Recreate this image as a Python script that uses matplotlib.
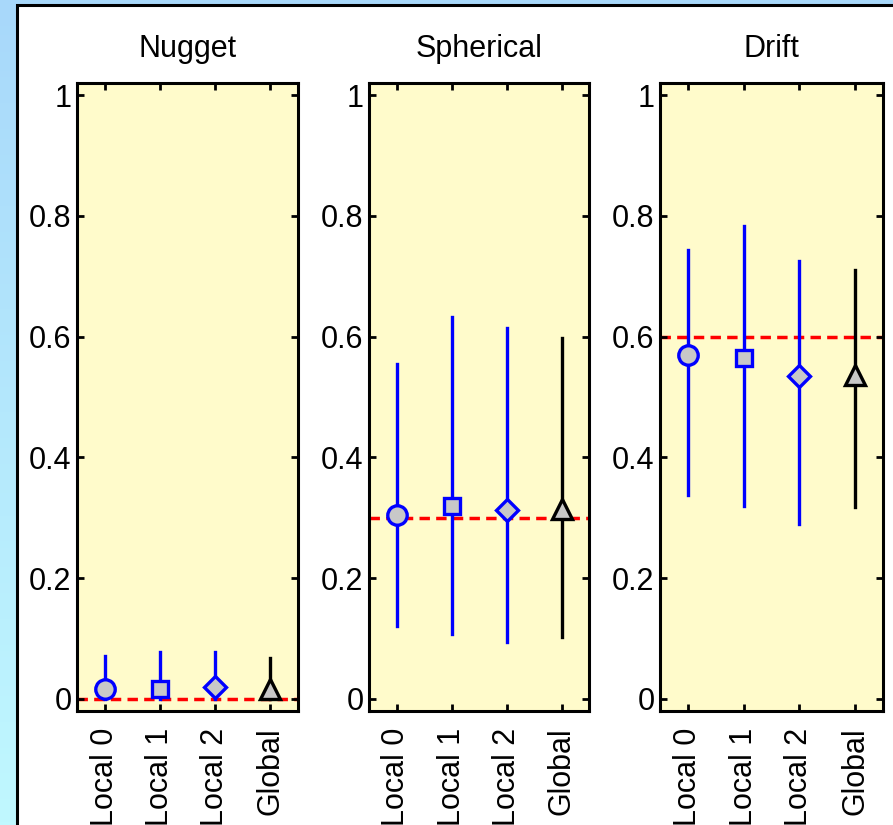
import numpy as np
import matplotlib.pyplot as plt
from matplotlib.patches import Rectangle

plt.rcParams['font.family'] = ['Liberation Sans', 'DejaVu Sans']

# estimates per model: median with lower/upper bounds, plus the true value
labels = ["Local 0", "Local 1", "Local 2", "Global"]
titles = ["Nugget", "Spherical", "Drift"]
true_vals = [0.0, 0.3, 0.6]

nugget_mid = [0.017, 0.016, 0.019, 0.017]
nugget_lo = [0.0, 0.0, 0.0, 0.0]
nugget_hi = [0.071, 0.078, 0.077, 0.068]

spherical_mid = [0.305, 0.320, 0.313, 0.315]
spherical_lo = [0.121, 0.108, 0.094, 0.102]
spherical_hi = [0.554, 0.633, 0.615, 0.598]

drift_mid = [0.570, 0.565, 0.535, 0.537]
drift_lo = [0.337, 0.320, 0.290, 0.318]
drift_hi = [0.743, 0.784, 0.726, 0.711]

mids = [nugget_mid, spherical_mid, drift_mid]
los = [nugget_lo, spherical_lo, drift_lo]
his = [nugget_hi, spherical_hi, drift_hi]

markers = ["o", "s", "D", "^"]
msizes = [14, 12, 11, 14]
edge_cols = ["blue", "blue", "blue", "black"]

fig = plt.figure(figsize=(8.93, 8.25), dpi=100)

# slide background: blue gradient with a white framed panel
bg = fig.add_axes([0, 0, 1, 1], zorder=-10)
grad = np.linspace(0, 1, 256).reshape(-1, 1)
top = np.array([168, 216, 250]) / 255
bot = np.array([192, 248, 255]) / 255
img = top + (bot - top) * grad[:, :, None]
bg.imshow(img, aspect="auto", extent=[0, 1, 0, 1], origin="upper")
bg.add_patch(Rectangle((17 / 893, -0.1), 1.2, 1.1 - 5 / 825,
                       facecolor="white", edgecolor="black", lw=2.2))
bg.set_xlim(0, 1)
bg.set_ylim(0, 1)
bg.axis("off")

lefts = [77 / 893, 369 / 893, 660 / 893]
widths = [221 / 893, 220 / 893, 223 / 893]
x = np.arange(1, 5)

for i in range(3):
    ax = fig.add_axes([lefts[i], 1 - 711 / 825, widths[i], 628 / 825])
    ax.set_facecolor("#fffbcb")
    ax.axhline(true_vals[i], color="red", ls=(0, (3, 1.8)), lw=2.5, zorder=1)
    for j in range(4):
        ax.plot([x[j], x[j]], [los[i][j], his[i][j]], color=edge_cols[j],
                lw=2.4, zorder=2)
        ax.plot(x[j], mids[i][j], marker=markers[j], ms=msizes[j],
                mfc="#c8c8c8", mec=edge_cols[j], mew=2.4, zorder=3,
                clip_on=False)
    ax.set_xlim(0.5, 4.5)
    ax.set_ylim(-0.02, 1.02)
    ax.set_xticks(x)
    ax.set_xticklabels(labels, rotation=90, fontsize=22)
    ax.set_yticks([0, 0.2, 0.4, 0.6, 0.8, 1])
    ax.set_yticklabels(["0", "0.2", "0.4", "0.6", "0.8", "1"], fontsize=22)
    ax.tick_params(direction="in", length=5, width=2, top=True, right=True)
    ax.tick_params(axis="x", pad=12)
    ax.tick_params(axis="y", pad=4)
    for s in ax.spines.values():
        s.set_linewidth(2.2)
    ax.set_title(titles[i], fontsize=22, pad=19)

fig.savefig("out.png", dpi=100)
